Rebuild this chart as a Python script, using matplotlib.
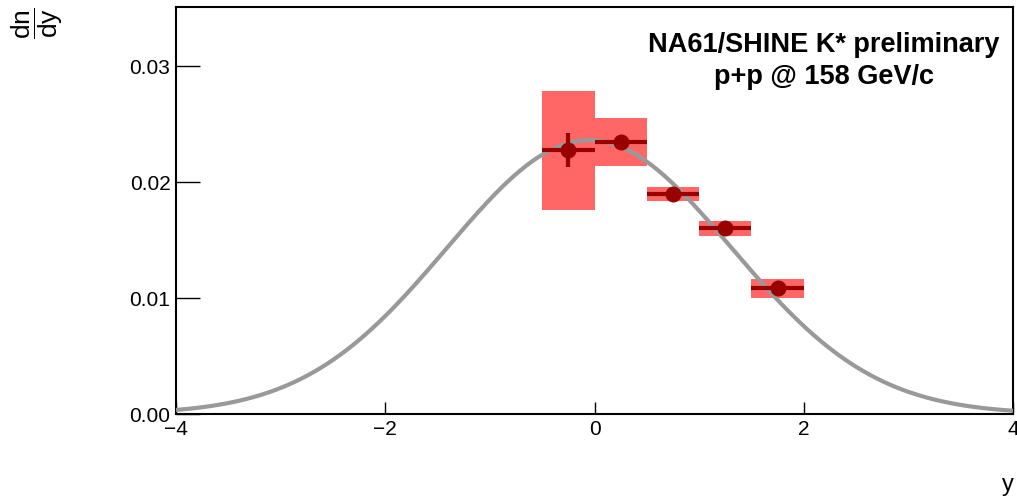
import numpy as np
import matplotlib
matplotlib.use('Agg')
import matplotlib.pyplot as plt

plt.rcParams['font.family'] = ['Liberation Sans', 'DejaVu Sans']
plt.rcParams['mathtext.fontset'] = 'custom'
plt.rcParams['mathtext.rm'] = 'Liberation Sans'
plt.rcParams['mathtext.it'] = 'Liberation Sans'

# K* rapidity spectrum, p+p @ 158 GeV/c
y_c = [-0.25, 0.25, 0.75, 1.25, 1.75]
y_hw = [0.25, 0.25, 0.25, 0.25, 0.25]
dndy = [0.02273, 0.02348, 0.01897, 0.01601, 0.01084]
stat = [0.00147, 0.0004, 0.0003, 0.0003, 0.0003]
sys_lo = [0.01759, 0.02141, 0.01839, 0.01537, 0.01003]
sys_hi = [0.02784, 0.02554, 0.01957, 0.01661, 0.01164]

# gaussian fit parameters
fit_amp = 0.02362
fit_mean = -0.05
fit_sigma = 1.36

fig = plt.figure(figsize=(10.17, 5.01), dpi=100)
ax = fig.add_axes([176/1017, 87/501, 837/1017, 407/501])

xf = np.linspace(-4, 4, 400)
yf = fit_amp*np.exp(-0.5*((xf - fit_mean)/fit_sigma)**2)
ax.plot(xf, yf, color='#999999', lw=3, zorder=3, solid_capstyle='butt')

ax.bar(y_c, np.array(sys_hi) - np.array(sys_lo), width=2*np.array(y_hw),
       bottom=sys_lo, color='#ff6666', lw=0, zorder=2)

ax.errorbar(y_c, dndy, xerr=y_hw, yerr=stat, fmt='o', color='#990000',
            ms=10.5, elinewidth=3, capsize=0, zorder=4)

ax.set_xlim(-4, 4)
ax.set_ylim(0, 0.0351)
ax.set_xticks([-4, -2, 0, 2, 4])
ax.set_yticks([0.0, 0.01, 0.02, 0.03])
ax.set_yticklabels(['0.00', '0.01', '0.02', '0.03'])
ax.set_xticklabels(['\u22124', '\u22122', '0', '2', '4'])
ax.tick_params(axis='y', direction='in', length=17, width=1, labelsize=15, pad=4)
ax.tick_params(axis='x', direction='in', length=9, width=1, labelsize=15, pad=4)
for s in ax.spines.values():
    s.set_linewidth(1.5)

fig.text(1008/1017, 1 - 485/501, 'y', fontsize=17, ha='center', va='center')
fig.text(37/1017, 1 - 23/501, r'$\dfrac{dn}{dy}$', fontsize=19, rotation=90,
         ha='center', va='center')

ax.text(0.774, 0.868, 'NA61/SHINE K* preliminary\np+p @ 158 GeV/c',
        transform=ax.transAxes, ha='center', va='center', fontsize=19.5,
        fontweight='bold', linespacing=1.3)

fig.savefig('out.png', dpi=100)
